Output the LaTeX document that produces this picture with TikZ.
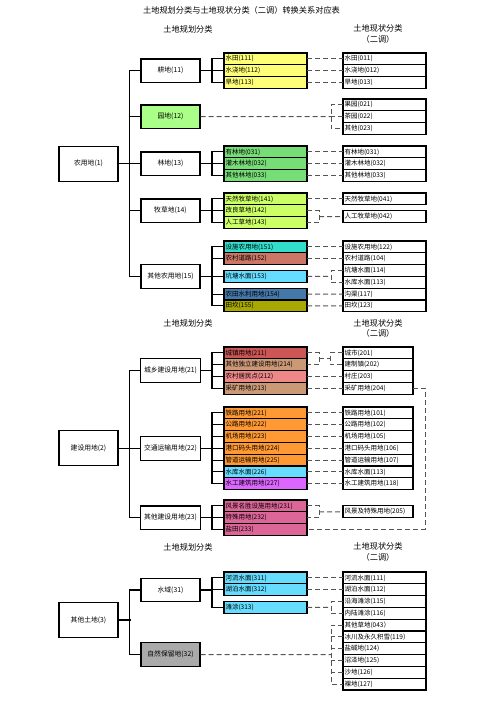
\documentclass[tikz,border=0pt]{standalone}
\usepackage{fontspec}
\setmainfont{Noto Sans CJK SC}
\usepackage{xcolor}
\usetikzlibrary{positioning, calc}

\definecolor{gengdi}{HTML}{FFFF77}
\definecolor{yuandi}{HTML}{AAFF88}
\definecolor{lindi}{HTML}{77DD77}
\definecolor{caodi}{HTML}{CCFF66}
\definecolor{sheshi}{HTML}{33DDCC}
\definecolor{daolu}{HTML}{CC7766}
\definecolor{shuimian}{HTML}{66DDFF}
\definecolor{shuili}{HTML}{4477AA}
\definecolor{tiankan}{HTML}{A8A800}
\definecolor{chengzhen}{HTML}{CC5555}
\definecolor{dulijs}{HTML}{CC9977}
\definecolor{jumin}{HTML}{EE8888}
\definecolor{jiaotong}{HTML}{FF9933}
\definecolor{shuigong}{HTML}{DD66FF}
\definecolor{qitajs}{HTML}{DD6699}
\definecolor{baoliu}{HTML}{AAAAAA}
\definecolor{linkgray}{HTML}{555555}

\newcommand{\leaffont}{\fontsize{6.5}{7}\selectfont}
\newcommand{\headfont}{\fontsize{8.2}{10.5}\selectfont}

\begin{document}
\begin{tikzpicture}[x=1pt, y=-1pt]
\tikzstyle{head} = [align=center, font=\headfont, inner sep=0pt]
\tikzstyle{topbox} = [rectangle, draw, line width=1.1pt, minimum width=59pt, minimum height=35pt, font=\fontsize{6.8}{8}\selectfont]
\tikzstyle{midbox} = [rectangle, draw, line width=1.1pt, minimum width=59pt, minimum height=23.5pt, font=\fontsize{6.8}{8}\selectfont]
\tikzstyle{leaf} = [rectangle, draw, line width=1.1pt, anchor=north west, text width=80pt, align=left, inner xsep=1.5pt, inner ysep=0pt, minimum height=11.8pt, outer sep=0pt, font=\leaffont]
\tikzstyle{now} = [leaf, fill=white]
\tikzstyle{nowshort} = [leaf, fill=white, text width=67pt]
\tikzstyle{tree} = [line width=1.1pt]
\tikzstyle{link} = [line width=1pt, linkgray, dash pattern=on 5pt off 3pt]

\useasboundingbox (0,0) rectangle (496,702);

% 标题
\node (title) [head] at (241.5,10) {土地规划分类与土地现状分类（二调）转换关系对应表};
\node (plan1) [head] at (188,29) {土地规划分类};
\node (now1) [head] at (378,34) {土地现状分类\\（二调）};

% ---------- 农用地 ----------
\node (n1) [topbox] at (88.5,163.7) {农用地(1)};
\node (g11) [midbox] at (170.5,70.7) {耕地(11)};
\node (g12) [midbox, fill=yuandi] at (170.5,116.7) {园地(12)};
\node (g13) [midbox] at (170.5,163.7) {林地(13)};
\node (g14) [midbox] at (170.5,210.7) {牧草地(14)};
\node (g15) [midbox] at (170.5,276.4) {其他农用地(15)};

\node (a111) [leaf, fill=gengdi] at (224,53) {水田(111)};
\node (a112) [leaf, fill=gengdi, below=0pt of a111] {水浇地(112)};
\node (a113) [leaf, fill=gengdi, below=0pt of a112] {旱地(113)};
\node (a131) [leaf, fill=lindi] at (224,146) {有林地(031)};
\node (a132) [leaf, fill=lindi, below=0pt of a131] {灌木林地(032)};
\node (a133) [leaf, fill=lindi, below=0pt of a132] {其他林地(033)};
\node (a141) [leaf, fill=caodi] at (224,193) {天然牧草地(141)};
\node (a142) [leaf, fill=caodi, below=0pt of a141] {改良草地(142)};
\node (a143) [leaf, fill=caodi, below=0pt of a142] {人工草地(143)};
\node (a151) [leaf, fill=sheshi] at (224,241) {设施农用地(151)};
\node (a152) [leaf, fill=daolu, below=0pt of a151] {农村道路(152)};
\node (a153) [leaf, fill=shuimian] at (224,270.5) {坑塘水面(153)};
\node (a154) [leaf, fill=shuili] at (224,288.2) {农田水利用地(154)};
\node (a155) [leaf, fill=tiankan, below=0pt of a154] {田坎(155)};

\node (r011) [now] at (343,53) {水田(011)};
\node (r012) [now, below=0pt of r011] {水浇地(012)};
\node (r013) [now, below=0pt of r012] {旱地(013)};
\node (r021) [now] at (343,99) {果园(021)};
\node (r022) [now, below=0pt of r021] {茶园(022)};
\node (r023) [now, below=0pt of r022] {其他(023)};
\node (r031) [now] at (343,146) {有林地(031)};
\node (r032) [now, below=0pt of r031] {灌木林地(032)};
\node (r033) [now, below=0pt of r032] {其他林地(033)};
\node (r041) [now] at (343,193) {天然牧草地(041)};
\node (r042) [now, anchor=west] at (343,216.6) {人工牧草地(042)};
\node (r122) [now] at (343,241) {设施农用地(122)};
\node (r104) [now, below=0pt of r122] {农村道路(104)};
\node (r114) [now, below=0pt of r104] {坑塘水面(114)};
\node (r113a) [now, below=0pt of r114] {水库水面(113)};
\node (r117) [now, below=0pt of r113a] {沟渠(117)};
\node (r123) [now, below=0pt of r117] {田坎(123)};

\draw[tree] (g11.west) -- ++(-11,0) |- (g15.west);
\foreach \g in {g12,g13,g14} \draw[tree] (\g.west) -- ++(-11,0);
\draw[tree] (n1.east) -- ++(12,0);
\foreach \g/\u/\v in {g11/a111/a113, g13/a131/a133, g14/a141/a143, g15/a151/a155} {
  \draw[tree] (\u.west) -- ++(-12,0) |- (\v.west);
  \draw[tree] (\g.east) -- ++(12,0);
}
\foreach \u in {a112,a132,a142,a152,a153,a154} \draw[tree] (\u.west) -- ++(-12,0);

\foreach \a/\r in {a111/r011, a112/r012, a113/r013, a131/r031, a132/r032, a133/r033, a141/r041, a151/r122, a152/r104, a154/r117, a155/r123}
  \draw[link] (\a.east) -- (\r.west);
\draw[link] (r021.west) -- ++(-12,0) |- (r023.west);
\draw[link] (r022.west) -- ++(-12,0) coordinate (k12);
\draw[link] (g12.east) -- (k12);
\draw[link] (a142.east) -- ++(12,0) |- (a143.east);
\draw[link] ($(a142.east)!0.5!(a143.east)+(12,0)$) -- (r042.west);
\draw[link] (r114.west) -- ++(-12,0) |- (r113a.west);
\draw[link] (a153.east) -- ($(r114.west)!0.5!(r113a.west)+(-12,0)$);

% ---------- 建设用地 ----------
\node (plan2) [head] at (188,323) {土地规划分类};
\node (now2) [head] at (378,328.5) {土地现状分类\\（二调）};

\node (n2) [topbox] at (88.5,448.3) {建设用地(2)};
\node (g21) [midbox] at (170.5,370.6) {城乡建设用地(21)};
\node (g22) [midbox] at (170.5,448.3) {交通运输用地(22)};
\node (g23) [midbox] at (170.5,517.7) {其他建设用地(23)};

\node (a211) [leaf, fill=chengzhen] at (224,347) {城镇用地(211)};
\node (a214) [leaf, fill=dulijs, below=0pt of a211] {其他独立建设用地(214)};
\node (a212) [leaf, fill=jumin, below=0pt of a214] {农村居民点(212)};
\node (a213) [leaf, fill=dulijs, below=0pt of a212] {采矿用地(213)};
\node (a221) [leaf, fill=jiaotong] at (224,407) {铁路用地(221)};
\node (a222) [leaf, fill=jiaotong, below=0pt of a221] {公路用地(222)};
\node (a223) [leaf, fill=jiaotong, below=0pt of a222] {机场用地(223)};
\node (a224) [leaf, fill=jiaotong, below=0pt of a223] {港口码头用地(224)};
\node (a225) [leaf, fill=jiaotong, below=0pt of a224] {管道运输用地(225)};
\node (a226) [leaf, fill=shuimian, below=0pt of a225] {水库水面(226)};
\node (a227) [leaf, fill=shuigong, below=0pt of a226] {水工建筑用地(227)};
\node (a231) [leaf, fill=qitajs] at (224,500) {风景名胜设施用地(231)};
\node (a232) [leaf, fill=qitajs, below=0pt of a231] {特殊用地(232)};
\node (a233) [leaf, fill=qitajs, below=0pt of a232] {盐田(233)};

\node (r201) [nowshort] at (343,347) {城市(201)};
\node (r202) [nowshort, below=0pt of r201] {建制镇(202)};
\node (r203) [nowshort, below=0pt of r202] {村庄(203)};
\node (r204) [nowshort, below=0pt of r203] {采矿用地(204)};
\node (r101) [nowshort] at (343,407) {铁路用地(101)};
\node (r102) [nowshort, below=0pt of r101] {公路用地(102)};
\node (r105) [nowshort, below=0pt of r102] {机场用地(105)};
\node (r106) [nowshort, below=0pt of r105] {港口码头用地(106)};
\node (r107) [nowshort, below=0pt of r106] {管道运输用地(107)};
\node (r113b) [nowshort, below=0pt of r107] {水库水面(113)};
\node (r118) [nowshort, below=0pt of r113b] {水工建筑用地(118)};
\node (r205) [nowshort, anchor=west] at (343,511.8) {风景及特殊用地(205)};

\draw[tree] (g21.west) -- ++(-11,0) |- (g23.west);
\draw[tree] (g22.west) -- ++(-11,0);
\draw[tree] (n2.east) -- ++(12,0);
\foreach \g/\u/\v in {g21/a211/a213, g22/a221/a227, g23/a231/a233} {
  \draw[tree] (\u.west) -- ++(-12,0) |- (\v.west);
  \draw[tree] (\g.east) -- ++(12,0);
}
\foreach \u in {a214,a212,a222,a223,a224,a225,a226,a232} \draw[tree] (\u.west) -- ++(-12,0);

\foreach \a/\r in {a212/r203, a213/r204, a221/r101, a222/r102, a223/r105, a224/r106, a225/r107, a226/r113b, a227/r118}
  \draw[link] (\a.east) -- (\r.west);
\draw[link] (a211.east) -- ++(12,0) |- (a214.east);
\draw[link] (r201.west) -- ++(-13,0) |- (r202.west);
\draw[link] ($(a211.east)!0.5!(a214.east)+(12,0)$) -- ($(r201.west)!0.5!(r202.west)+(-13,0)$);
\draw[link] (a231.east) -- ++(12,0) |- (a232.east);
\draw[link] ($(a231.east)!0.5!(a232.east)+(12,0)$) -- (r205.west);
\draw[link] (r204.east) -- ++(12,0) |- (a233.east);

% ---------- 其他土地 ----------
\node (plan3) [head] at (188,547) {土地规划分类};
\node (now3) [head] at (378,552) {土地现状分类\\（二调）};

\node (n3) [topbox] at (88.5,620) {其他土地(3)};
\node (g31) [midbox] at (170.5,590) {水域(31)};
\node (g32) [midbox, fill=baoliu] at (170.5,654.6) {自然保留地(32)};

\node (a311) [leaf, fill=shuimian] at (224,572) {河流水面(311)};
\node (a312) [leaf, fill=shuimian, below=0pt of a311] {湖泊水面(312)};
\node (a313) [leaf, fill=shuimian] at (224,601.5) {滩涂(313)};

\node (r111) [now] at (343,572) {河流水面(111)};
\node (r112) [now, below=0pt of r111] {湖泊水面(112)};
\node (r115) [now, below=0pt of r112] {沿海滩涂(115)};
\node (r116) [now, below=0pt of r115] {内陆滩涂(116)};
\node (r043) [now, below=0pt of r116] {其他草地(043）};
\node (r119) [now, below=0pt of r043] {冰川及永久积雪(119）};
\node (r124) [now, below=0pt of r119] {盐碱地(124)};
\node (r125) [now, below=0pt of r124] {沼泽地(125)};
\node (r126) [now, below=0pt of r125] {沙地(126)};
\node (r127) [now, below=0pt of r126] {裸地(127)};

\draw[tree] (g31.west) -- ++(-11,0) |- (g32.west);
\draw[tree] (n3.east) -- ++(12,0);
\draw[tree] (a311.west) -- ++(-12,0) |- (a313.west);
\draw[tree] (a312.west) -- ++(-12,0);
\draw[tree] (g31.east) -- ++(12,0);

\draw[link] (a311.east) -- (r111.west);
\draw[link] (a312.east) -- (r112.west);
\draw[link] (r115.west) -- ++(-12,0) |- (r116.west);
\draw[link] (a313.east) -- ($(r115.west)!0.5!(r116.west)+(-12,0)$);
\draw[link] (r043.west) -- ++(-12,0) |- (r127.west);
\foreach \r in {r119,r124,r125,r126} \draw[link] (\r.west) -- ++(-12,0);
\draw[link] (g32.east) -- ($(r043.west)!0.5!(r127.west)+(-12,0)$);

\end{tikzpicture}
\end{document}
